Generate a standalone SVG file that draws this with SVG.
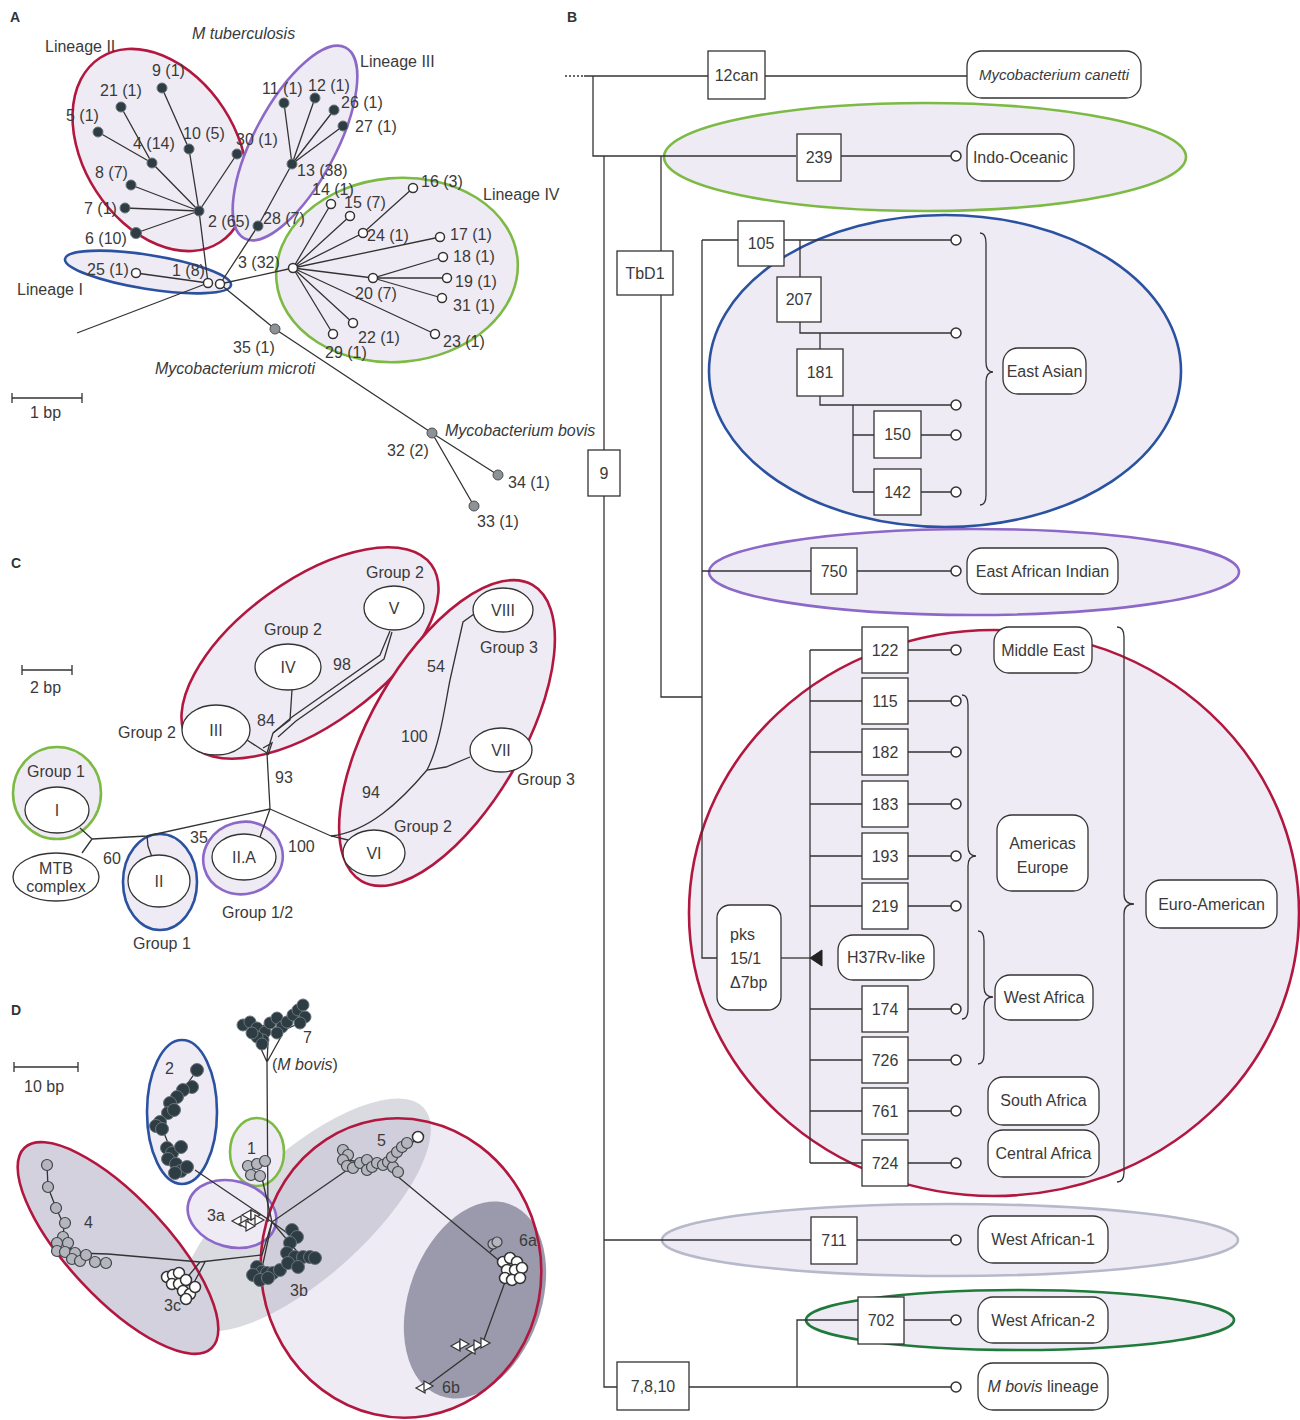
<svg xmlns="http://www.w3.org/2000/svg" width="1300" height="1420" viewBox="0 0 1300 1420">
<defs>
<style>
.t{font-family:"Liberation Sans",Arial,sans-serif;font-size:16px;fill:#3a3a3a}
.it{font-style:italic}
.c{text-anchor:middle}
.pl{font-family:"Liberation Sans",Arial,sans-serif;font-size:14px;font-weight:bold;fill:#333}
.ln{fill:none;stroke:#333;stroke-width:1.3}
.box{fill:#fff;stroke:#333;stroke-width:1.3}
.lav{fill:#efebf4}
.wh{fill:#fff;stroke:#333;stroke-width:1.3}
.red{stroke:#b2183f;stroke-width:2.6}
.pur{stroke:#8c68c8;stroke-width:2.6}
.grn{stroke:#7cba44;stroke-width:2.6}
.blu{stroke:#2a52a0;stroke-width:2.6}
.dg{stroke:#1f7a3c;stroke-width:2.6}
.gy{stroke:#b6b9ca;stroke-width:2.6}
.dk{fill:#2e3c44;stroke:#6b767c;stroke-width:1}
.op{fill:#fff;stroke:#333;stroke-width:1.5}
.gr{fill:#8d9297;stroke:#4a4f54;stroke-width:1}
.gc{fill:#b4b5bd;stroke:#3e4448;stroke-width:1.2}
.tip{fill:#fff;stroke:#333;stroke-width:1.5}
.tri{fill:#fff;stroke:#333;stroke-width:1.2}
</style>
<path id="triL" d="M-5,0 L4,-5 L4,5 Z"/>
<path id="triR" d="M5,0 L-4,-5 L-4,5 Z"/>
</defs>
<rect width="1300" height="1420" fill="#fff"/>

<!-- ================= PANEL A ================= -->
<g id="panelA">
<text class="pl" x="10" y="22">A</text>
<g id="A-groups">
<ellipse id="lineageII" class="lav red" cx="160" cy="150" rx="110" ry="76" transform="rotate(57 160 150)"/>
<ellipse id="lineageIII" class="lav pur" cx="295" cy="143" rx="108" ry="41" transform="rotate(-62 295 143)"/>
<ellipse id="lineageIV" class="lav grn" cx="397" cy="270" rx="121" ry="92" transform="rotate(-5 397 270)"/>
<ellipse id="lineageI" class="lav blu" cx="148" cy="272" rx="84" ry="17" transform="rotate(9 148 272)"/>
</g>
<g id="connectors-A" class="ln">
<path d="M77,333 L208,283"/>
<path d="M199,211 L208,283 M136,273 L208,283"/>
<path d="M199,211 L152,163 L121,107 M152,163 L98,132"/>
<path d="M199,211 L189,149 L162,88"/>
<path d="M199,211 L237,154 M199,211 L131,185 M199,211 L125,208 M199,211 L136,233"/>
<path d="M220,284 L258,226 L292,164 M292,164 L284,103 M292,164 L315,98 M292,164 L334,110 M292,164 L343,126"/>
<path d="M220,284 L293,268"/>
<path d="M293,268 L331,204 M293,268 L350,216 M293,268 L363,233 L413,188 M293,268 L440,237 M293,268 L373,278 L443,257 M373,278 L447,278 M373,278 L442,298 M293,268 L435,334 M293,268 L353,323 M293,268 L333,334"/>
<path d="M220,284 L275,329 L432,433 L498,475 M432,433 L474,506"/>
<path d="M12,398 H82 M12,393 V403 M82,393 V403"/>
</g>
<g id="A-nodes">
<circle id="a9" class="dk" cx="162" cy="88" r="5"/>
<circle id="a21" class="dk" cx="121" cy="107" r="5"/>
<circle id="a5" class="dk" cx="98" cy="132" r="5"/>
<circle id="a4" class="dk" cx="152" cy="163" r="5"/>
<circle id="a10" class="dk" cx="189" cy="149" r="5"/>
<circle id="a30" class="dk" cx="237" cy="154" r="5"/>
<circle id="a8" class="dk" cx="131" cy="185" r="5"/>
<circle id="a7" class="dk" cx="125" cy="208" r="5"/>
<circle id="a6" class="dk" cx="136" cy="233" r="5.5"/>
<circle id="a2" class="dk" cx="199" cy="211" r="5"/>
<circle id="a28" class="dk" cx="258" cy="226" r="5"/>
<circle id="a13" class="dk" cx="292" cy="164" r="5"/>
<circle id="a11" class="dk" cx="284" cy="103" r="5"/>
<circle id="a12" class="dk" cx="315" cy="98" r="5"/>
<circle id="a26" class="dk" cx="334" cy="110" r="5"/>
<circle id="a27" class="dk" cx="343" cy="126" r="5"/>
<circle id="a25" class="op" cx="136" cy="273" r="4.5"/>
<circle id="a1a" class="op" cx="208" cy="283" r="4.5"/>
<circle id="a1b" class="op" cx="220" cy="284" r="4.5"/>
<circle id="a3" class="op" cx="293" cy="268" r="4.5"/>
<circle id="a14" class="op" cx="331" cy="204" r="4.5"/>
<circle id="a15" class="op" cx="350" cy="216" r="4.5"/>
<circle id="a16" class="op" cx="413" cy="188" r="4.5"/>
<circle id="a24" class="op" cx="363" cy="233" r="4.5"/>
<circle id="a17" class="op" cx="440" cy="237" r="4.5"/>
<circle id="a18" class="op" cx="443" cy="257" r="4.5"/>
<circle id="a20" class="op" cx="373" cy="278" r="4.5"/>
<circle id="a19" class="op" cx="447" cy="278" r="4.5"/>
<circle id="a31" class="op" cx="442" cy="298" r="4.5"/>
<circle id="a22" class="op" cx="353" cy="323" r="4.5"/>
<circle id="a29" class="op" cx="333" cy="334" r="4.5"/>
<circle id="a23" class="op" cx="435" cy="334" r="4.5"/>
<circle id="a35" class="gr" cx="275" cy="329" r="5"/>
<circle id="a32" class="gr" cx="432" cy="433" r="5"/>
<circle id="a34" class="gr" cx="498" cy="475" r="5"/>
<circle id="a33" class="gr" cx="474" cy="506" r="5"/>
</g>
<g id="A-labels" class="t">
<text x="152" y="76">9 (1)</text>
<text x="100" y="96">21 (1)</text>
<text x="66" y="121">5 (1)</text>
<text x="133" y="149">4 (14)</text>
<text x="183" y="139">10 (5)</text>
<text x="236" y="145">30 (1)</text>
<text x="95" y="178">8 (7)</text>
<text x="84" y="214">7 (1)</text>
<text x="85" y="244">6 (10)</text>
<text x="208" y="227">2 (65)</text>
<text x="263" y="224">28 (7)</text>
<text x="262" y="94">11 (1)</text>
<text x="308" y="91">12 (1)</text>
<text x="341" y="108">26 (1)</text>
<text x="355" y="132">27 (1)</text>
<text x="297" y="176">13 (38)</text>
<text x="87" y="275">25 (1)</text>
<text x="172" y="276">1 (8)</text>
<text x="238" y="268">3 (32)</text>
<text x="312" y="195">14 (1)</text>
<text x="344" y="208">15 (7)</text>
<text x="421" y="187">16 (3)</text>
<text x="367" y="241">24 (1)</text>
<text x="450" y="240">17 (1)</text>
<text x="453" y="262">18 (1)</text>
<text x="455" y="287">19 (1)</text>
<text x="453" y="311">31 (1)</text>
<text x="355" y="299">20 (7)</text>
<text x="358" y="343">22 (1)</text>
<text x="325" y="358">29 (1)</text>
<text x="443" y="347">23 (1)</text>
<text x="233" y="353">35 (1)</text>
<text x="387" y="456">32 (2)</text>
<text x="508" y="488">34 (1)</text>
<text x="477" y="527">33 (1)</text>
<text class="it" x="155" y="374">Mycobacterium microti</text>
<text class="it" x="445" y="436">Mycobacterium bovis</text>
<text class="it" x="192" y="39">M tuberculosis</text>
<text x="45" y="52">Lineage II</text>
<text x="360" y="67">Lineage III</text>
<text x="483" y="200">Lineage IV</text>
<text x="17" y="295">Lineage I</text>
<text x="30" y="418">1 bp</text>
</g>
</g>

<!-- ================= PANEL B ================= -->
<g id="panelB">
<text class="pl" x="567" y="22">B</text>
<g id="B-groups">
<ellipse id="g-indo" class="lav grn" cx="925" cy="157" rx="261" ry="54"/>
<ellipse id="g-eastasian" class="lav blu" cx="945" cy="371" rx="236" ry="156"/>
<ellipse id="g-eai" class="lav pur" cx="974" cy="572" rx="265" ry="43"/>
<ellipse id="g-euro" class="lav red" cx="994" cy="913" rx="305" ry="283"/>
<ellipse id="g-wa1" class="lav gy" cx="950" cy="1240" rx="288" ry="36"/>
<ellipse id="g-wa2" class="lav dg" cx="1020" cy="1320" rx="214" ry="30"/>
</g>
<g id="connectors-B" class="ln">
<path d="M565,76 H584" stroke-dasharray="2,2"/>
<path d="M584,76 H708 M765,76 H967"/>
<path d="M593,76 V156 H796 M841,156 H951"/>
<path d="M604,156 V1387 H617"/>
<path d="M661,156 V697 H702"/>
<path d="M702,240 H738 M784,240 H951 M702,240 V958 H717"/>
<path d="M800,240 V277 M800,322 V333 H951 M820,333 V349 M820,396 V405 H951 M853,405 V492 M853,435 H874 M921,435 H951 M853,492 H874 M921,492 H951"/>
<path d="M702,571 H811 M857,571 H951"/>
<path d="M810,650 V1163"/>
<path d="M810,650 H862 M908,650 H951 M810,701 H862 M908,701 H951 M810,752 H862 M908,752 H951 M810,804 H862 M908,804 H951 M810,856 H862 M908,856 H951 M810,906 H862 M908,906 H951 M810,1009 H862 M908,1009 H951 M810,1060 H862 M908,1060 H951 M810,1111 H862 M908,1111 H951 M810,1163 H862 M908,1163 H951"/>
<path d="M781,958 H810"/>
<path d="M604,1240 H811 M857,1240 H951"/>
<path d="M689,1387 H951 M797,1387 V1320 H858 M904,1320 H951"/>
<path d="M980,233 Q986,233 986,243 L986,362 Q986,372 993,372 Q986,372 986,382 L986,495 Q986,505 980,505"/>
<path d="M962,695 Q968,695 968,705 L968,846 Q968,856 976,856 Q968,856 968,866 L968,1009 Q968,1019 962,1019"/>
<path d="M978,931 Q984,931 984,941 L984,987 Q984,997 993,997 Q984,997 984,1007 L984,1054 Q984,1064 978,1064"/>
<path d="M1117,627 Q1124,627 1124,637 L1124,894 Q1124,904 1134,904 Q1124,904 1124,914 L1124,1172 Q1124,1182 1117,1182"/>
<polygon points="810,958 822,950 822,966" fill="#222" stroke="#222" stroke-width="1"/>
</g>
<g id="B-tips">
<circle class="tip" cx="956" cy="156" r="5"/>
<circle class="tip" cx="956" cy="240" r="5"/>
<circle class="tip" cx="956" cy="333" r="5"/>
<circle class="tip" cx="956" cy="405" r="5"/>
<circle class="tip" cx="956" cy="435" r="5"/>
<circle class="tip" cx="956" cy="492" r="5"/>
<circle class="tip" cx="956" cy="571" r="5"/>
<circle class="tip" cx="956" cy="650" r="5"/>
<circle class="tip" cx="956" cy="701" r="5"/>
<circle class="tip" cx="956" cy="752" r="5"/>
<circle class="tip" cx="956" cy="804" r="5"/>
<circle class="tip" cx="956" cy="856" r="5"/>
<circle class="tip" cx="956" cy="906" r="5"/>
<circle class="tip" cx="956" cy="1009" r="5"/>
<circle class="tip" cx="956" cy="1060" r="5"/>
<circle class="tip" cx="956" cy="1111" r="5"/>
<circle class="tip" cx="956" cy="1163" r="5"/>
<circle class="tip" cx="956" cy="1240" r="5"/>
<circle class="tip" cx="956" cy="1320" r="5"/>
<circle class="tip" cx="956" cy="1387" r="5"/>
</g>
<g id="B-nodes" class="t">
<g id="b-12can"><rect class="box" x="708" y="51" width="57" height="48"/><text class="c" x="736.5" y="81">12can</text></g>
<g id="b-canetti"><rect class="box" x="967" y="51" width="174" height="47" rx="15"/><text class="c it" x="1054" y="80" style="font-size:15px">Mycobacterium canetti</text></g>
<g id="b-239"><rect class="box" x="797" y="134" width="44" height="47"/><text class="c" x="819" y="163">239</text></g>
<g id="b-indo"><rect class="box" x="967" y="134" width="107" height="47" rx="15"/><text class="c" x="1020.5" y="163">Indo-Oceanic</text></g>
<g id="b-tbd1"><rect class="box" x="617" y="251" width="56" height="44"/><text class="c" x="645" y="279">TbD1</text></g>
<g id="b-9"><rect class="box" x="588" y="450" width="32" height="46"/><text class="c" x="604" y="479">9</text></g>
<g id="b-105"><rect class="box" x="738" y="221" width="46" height="45"/><text class="c" x="761" y="249">105</text></g>
<g id="b-207"><rect class="box" x="777" y="277" width="44" height="45"/><text class="c" x="799" y="305">207</text></g>
<g id="b-181"><rect class="box" x="797" y="349" width="46" height="47"/><text class="c" x="820" y="378">181</text></g>
<g id="b-150"><rect class="box" x="874" y="411" width="47" height="47"/><text class="c" x="897.5" y="440">150</text></g>
<g id="b-142"><rect class="box" x="874" y="469" width="47" height="46"/><text class="c" x="897.5" y="498">142</text></g>
<g id="b-eastasian"><rect class="box" x="1003" y="348" width="83" height="46" rx="15"/><text class="c" x="1044.5" y="377">East Asian</text></g>
<g id="b-750"><rect class="box" x="811" y="548" width="46" height="46"/><text class="c" x="834" y="577">750</text></g>
<g id="b-eai"><rect class="box" x="967" y="548" width="151" height="46" rx="15"/><text class="c" x="1042.5" y="577">East African Indian</text></g>
<g id="b-122"><rect class="box" x="862" y="627" width="46" height="46"/><text class="c" x="885" y="656">122</text></g>
<g id="b-115"><rect class="box" x="862" y="678" width="46" height="46"/><text class="c" x="885" y="707">115</text></g>
<g id="b-182"><rect class="box" x="862" y="729" width="46" height="46"/><text class="c" x="885" y="758">182</text></g>
<g id="b-183"><rect class="box" x="862" y="781" width="46" height="46"/><text class="c" x="885" y="810">183</text></g>
<g id="b-193"><rect class="box" x="862" y="833" width="46" height="46"/><text class="c" x="885" y="862">193</text></g>
<g id="b-219"><rect class="box" x="862" y="883" width="46" height="46"/><text class="c" x="885" y="912">219</text></g>
<g id="b-174"><rect class="box" x="862" y="986" width="46" height="46"/><text class="c" x="885" y="1015">174</text></g>
<g id="b-726"><rect class="box" x="862" y="1037" width="46" height="46"/><text class="c" x="885" y="1066">726</text></g>
<g id="b-761"><rect class="box" x="862" y="1088" width="46" height="46"/><text class="c" x="885" y="1117">761</text></g>
<g id="b-724"><rect class="box" x="862" y="1140" width="46" height="46"/><text class="c" x="885" y="1169">724</text></g>
<g id="b-pks"><rect class="box" x="717" y="905" width="64" height="105" rx="13"/><text x="730" y="940">pks</text><text x="730" y="964">15/1</text><text x="730" y="988">Δ7bp</text></g>
<g id="b-h37"><rect class="box" x="838" y="935" width="96" height="45" rx="15"/><text class="c" x="886" y="963">H37Rv-like</text></g>
<g id="b-mideast"><rect class="box" x="994" y="627" width="98" height="46" rx="15"/><text class="c" x="1043" y="656">Middle East</text></g>
<g id="b-ameu"><rect class="box" x="997" y="815" width="91" height="76" rx="15"/><text class="c" x="1042.5" y="849">Americas</text><text class="c" x="1042.5" y="873">Europe</text></g>
<g id="b-euroam"><rect class="box" x="1146" y="880" width="131" height="48" rx="15"/><text class="c" x="1211.5" y="910">Euro-American</text></g>
<g id="b-westafrica"><rect class="box" x="995" y="975" width="98" height="45" rx="15"/><text class="c" x="1044" y="1003">West Africa</text></g>
<g id="b-southafrica"><rect class="box" x="988" y="1077" width="111" height="48" rx="15"/><text class="c" x="1043.5" y="1106">South Africa</text></g>
<g id="b-centralafrica"><rect class="box" x="988" y="1130" width="111" height="47" rx="15"/><text class="c" x="1043.5" y="1159">Central Africa</text></g>
<g id="b-711"><rect class="box" x="811" y="1217" width="46" height="47"/><text class="c" x="834" y="1246">711</text></g>
<g id="b-wa1"><rect class="box" x="978" y="1216" width="130" height="47" rx="15"/><text class="c" x="1043" y="1245">West African-1</text></g>
<g id="b-702"><rect class="box" x="858" y="1297" width="46" height="47"/><text class="c" x="881" y="1326">702</text></g>
<g id="b-wa2"><rect class="box" x="978" y="1297" width="130" height="46" rx="15"/><text class="c" x="1043" y="1326">West African-2</text></g>
<g id="b-7810"><rect class="box" x="617" y="1362" width="72" height="48"/><text class="c" x="653" y="1392">7,8,10</text></g>
<g id="b-mbovis"><rect class="box" x="978" y="1363" width="130" height="47" rx="15"/><text class="c" x="1043" y="1392"><tspan class="it">M bovis</tspan> lineage</text></g>
</g>
</g>

<!-- ================= PANEL C ================= -->
<g id="panelC">
<text class="pl" x="11" y="568">C</text>
<g id="C-groups">
<ellipse class="lav red" cx="310" cy="653" rx="150" ry="72" transform="rotate(-36 310 653)"/>
<ellipse class="lav red" cx="447" cy="733" rx="171" ry="76" transform="rotate(-60 447 733)"/>
<ellipse class="lav grn" cx="57" cy="793" rx="44" ry="46"/>
<ellipse class="lav blu" cx="160" cy="882" rx="37" ry="48"/>
<ellipse class="lav pur" cx="243" cy="858" rx="40" ry="36" transform="rotate(-15 243 858)"/>
</g>
<g id="connectors-C" class="ln">
<path d="M80,828 L92,839 M82,853 L92,839"/>
<path d="M92,839 L147,836 L270,809"/>
<path d="M147,836 L148,846 L152,857"/>
<path d="M270,809 L260,837"/>
<path d="M270,809 L267,753 L247,740"/>
<path d="M267,753 L273,733 M263,748 L272,743 L268,755"/>
<path d="M273,733 L290,720 L292,690"/>
<path d="M273,733 L292,717 L380,655 L390,631 M278,737 L296,721 L384,659 L392,632"/>
<path d="M270,809 L331,836 L348,840"/>
<path d="M331,836 C368,832 400,802 427,770 L446,767 L470,757"/>
<path d="M427,770 C440,745 445,705 450,680 L463,622 L474,614"/>
<path d="M22,670 H72 M22,665 V675 M72,665 V675"/>
</g>
<g id="C-nodes" class="t">
<g id="c-I"><ellipse class="wh" cx="57" cy="810" rx="32" ry="23"/><text class="c" x="57" y="816">I</text></g>
<g id="c-MTB"><ellipse class="wh" cx="56" cy="877" rx="43" ry="24"/><text class="c" x="56" y="874">MTB</text><text class="c" x="56" y="892">complex</text></g>
<g id="c-II"><ellipse class="wh" cx="159" cy="881" rx="31" ry="26"/><text class="c" x="159" y="887">II</text></g>
<g id="c-IIA"><ellipse class="wh" cx="244" cy="857" rx="32" ry="23"/><text class="c" x="244" y="863">II.A</text></g>
<g id="c-III"><ellipse class="wh" cx="216" cy="730" rx="34" ry="25"/><text class="c" x="216" y="736">III</text></g>
<g id="c-IV"><ellipse class="wh" cx="288" cy="667" rx="33" ry="23"/><text class="c" x="288" y="673">IV</text></g>
<g id="c-V"><ellipse class="wh" cx="394" cy="608" rx="30" ry="22"/><text class="c" x="394" y="614">V</text></g>
<g id="c-VI"><ellipse class="wh" cx="374" cy="853" rx="31" ry="23"/><text class="c" x="374" y="859">VI</text></g>
<g id="c-VII"><ellipse class="wh" cx="501" cy="750" rx="31" ry="22"/><text class="c" x="501" y="756">VII</text></g>
<g id="c-VIII"><ellipse class="wh" cx="503" cy="610" rx="30" ry="22"/><text class="c" x="503" y="616">VIII</text></g>
</g>
<g id="C-labels" class="t">
<text x="366" y="578">Group 2</text>
<text x="264" y="635">Group 2</text>
<text x="333" y="670">98</text>
<text x="118" y="738">Group 2</text>
<text x="257" y="726">84</text>
<text x="275" y="783">93</text>
<text x="427" y="672">54</text>
<text x="480" y="653">Group 3</text>
<text x="401" y="742">100</text>
<text x="517" y="785">Group 3</text>
<text x="362" y="798">94</text>
<text x="394" y="832">Group 2</text>
<text x="27" y="777">Group 1</text>
<text x="103" y="864">60</text>
<text x="190" y="843">35</text>
<text x="288" y="852">100</text>
<text x="222" y="918">Group 1/2</text>
<text x="133" y="949">Group 1</text>
<text x="30" y="693">2 bp</text>
</g>
</g>

<!-- ================= PANEL D ================= -->
<g id="panelD">
<text class="pl" x="11" y="1015">D</text>
<g id="D-groups">
<ellipse id="d-right" class="lav" cx="401" cy="1268" rx="140" ry="150" transform="rotate(-10 401 1268)"/>
<ellipse id="d-shade" cx="305" cy="1215" rx="160" ry="62" transform="rotate(-42 305 1215)" fill="#a3a3b4" fill-opacity="0.4"/>
<ellipse id="d-left" cx="118" cy="1248" rx="137" ry="50" transform="rotate(47 118 1248)" fill="#d3d1de"/>
<ellipse id="d-six" cx="475" cy="1300" rx="66" ry="102" transform="rotate(20 475 1300)" fill="#9a9aac"/>
<ellipse id="d-2" class="lav blu" cx="182" cy="1112" rx="35" ry="72"/>
<ellipse id="d-1" class="lav grn" cx="257" cy="1152" rx="27" ry="34"/>
<ellipse id="d-3a" class="lav pur" cx="232" cy="1214" rx="45" ry="33" transform="rotate(15 232 1214)"/>
<ellipse cx="118" cy="1248" rx="137" ry="50" transform="rotate(47 118 1248)" fill="none" class="red"/>
<ellipse cx="401" cy="1268" rx="140" ry="150" transform="rotate(-10 401 1268)" fill="none" class="red"/>
</g>
<g id="connectors-D" class="ln" stroke-width="1.1">
<path d="M268,1222 L267,1062 M267,1062 L257,1040 M267,1062 L282,1035 M267,1062 L268,1043"/>
<path d="M243,1025 L257,1028 L270,1023 L287,1022 L303,1007 M265,1032 L277,1033 L300,1023"/>
<path d="M272,1222 L195,1170 M181,1170 L172,1153 L162,1128 L170,1103 L183,1090 L197,1070"/>
<path d="M272,1222 L262,1178"/>
<path d="M272,1222 L353,1166 M345,1160 L390,1165 L418,1137"/>
<path d="M385,1166 L508,1268 M490,1252 L497,1245"/>
<path d="M505,1282 L482,1345 L424,1388"/>
<path d="M272,1222 L262,1268 M272,1222 L300,1255 L315,1258 M272,1222 L290,1235"/>
<path d="M272,1222 L262,1255 L200,1262 L108,1254 M200,1262 L185,1280 M205,1262 L190,1290"/>
<path d="M47,1165 L48,1187 L56,1208 L64,1225 L63,1240 L75,1253 L108,1254"/>
<path d="M14,1067 H78 M14,1062 V1072 M78,1062 V1072"/>
</g>
<g id="D-nodes">
<g id="d-cluster7">
<circle class="dk" cx="243" cy="1025" r="6"/><circle class="dk" cx="250" cy="1022" r="6"/><circle class="dk" cx="257" cy="1028" r="6"/><circle class="dk" cx="265" cy="1032" r="6"/><circle class="dk" cx="263" cy="1040" r="6"/><circle class="dk" cx="257" cy="1037" r="6"/><circle class="dk" cx="270" cy="1023" r="6"/><circle class="dk" cx="277" cy="1018" r="6"/><circle class="dk" cx="282" cy="1027" r="6"/><circle class="dk" cx="287" cy="1022" r="6"/><circle class="dk" cx="293" cy="1015" r="6"/><circle class="dk" cx="298" cy="1010" r="6"/><circle class="dk" cx="303" cy="1005" r="6"/><circle class="dk" cx="305" cy="1017" r="6"/><circle class="dk" cx="300" cy="1023" r="6"/><circle class="dk" cx="252" cy="1033" r="6"/><circle class="dk" cx="262" cy="1044" r="6"/><circle class="dk" cx="277" cy="1033" r="6"/>
</g>
<g id="d-cluster2">
<circle class="dk" cx="197" cy="1070" r="6.5"/><circle class="dk" cx="192" cy="1087" r="6.5"/><circle class="dk" cx="183" cy="1090" r="6.5"/><circle class="dk" cx="177" cy="1097" r="6.5"/><circle class="dk" cx="170" cy="1103" r="6.5"/><circle class="dk" cx="168" cy="1113" r="6.5"/><circle class="dk" cx="174" cy="1110" r="6.5"/><circle class="dk" cx="160" cy="1122" r="6.5"/><circle class="dk" cx="156" cy="1126" r="6.5"/><circle class="dk" cx="162" cy="1129" r="6.5"/><circle class="dk" cx="167" cy="1148" r="6.5"/><circle class="dk" cx="172" cy="1153" r="6.5"/><circle class="dk" cx="168" cy="1159" r="6.5"/><circle class="dk" cx="176" cy="1164" r="6.5"/><circle class="dk" cx="181" cy="1171" r="6.5"/><circle class="dk" cx="175" cy="1173" r="6.5"/><circle class="dk" cx="187" cy="1167" r="6.5"/><circle class="dk" cx="181" cy="1147" r="6.5"/>
</g>
<g id="d-cluster1">
<circle class="gc" cx="248" cy="1166" r="5.5"/><circle class="gc" cx="257" cy="1164" r="5.5"/><circle class="gc" cx="265" cy="1161" r="5.5"/><circle class="gc" cx="251" cy="1175" r="5.5"/><circle class="gc" cx="260" cy="1176" r="5.5"/>
</g>
<g id="d-cluster3a">
<use href="#triL" class="tri" x="237" y="1221"/><use href="#triL" class="tri" x="244" y="1224"/><use href="#triR" class="tri" x="250" y="1226"/><use href="#triL" class="tri" x="247" y="1215"/><use href="#triR" class="tri" x="255" y="1215"/><use href="#triR" class="tri" x="259" y="1220"/>
</g>
<g id="d-cluster3b">
<circle class="dk" cx="292" cy="1230" r="6.5"/><circle class="dk" cx="297" cy="1237" r="6.5"/><circle class="dk" cx="290" cy="1243" r="6.5"/><circle class="dk" cx="287" cy="1253" r="6.5"/><circle class="dk" cx="295" cy="1257" r="6.5"/><circle class="dk" cx="303" cy="1257" r="6.5"/><circle class="dk" cx="310" cy="1257" r="6.5"/><circle class="dk" cx="315" cy="1258" r="6.5"/><circle class="dk" cx="257" cy="1267" r="6.5"/><circle class="dk" cx="262" cy="1272" r="6.5"/><circle class="dk" cx="267" cy="1273" r="6.5"/><circle class="dk" cx="273" cy="1273" r="6.5"/><circle class="dk" cx="280" cy="1270" r="6.5"/><circle class="dk" cx="253" cy="1275" r="6.5"/><circle class="dk" cx="260" cy="1280" r="6.5"/><circle class="dk" cx="268" cy="1278" r="6.5"/><circle class="dk" cx="288" cy="1263" r="6.5"/><circle class="dk" cx="298" cy="1267" r="6.5"/>
</g>
<g id="d-cluster3c">
<circle class="op" cx="167" cy="1277" r="5.5"/><circle class="op" cx="173" cy="1275" r="5.5"/><circle class="op" cx="179" cy="1273" r="5.5"/><circle class="op" cx="172" cy="1284" r="5.5"/><circle class="op" cx="179" cy="1284" r="5.5"/><circle class="op" cx="186" cy="1280" r="5.5"/><circle class="op" cx="183" cy="1291" r="5.5"/><circle class="op" cx="190" cy="1294" r="5.5"/><circle class="op" cx="195" cy="1287" r="5.5"/><circle class="op" cx="186" cy="1299" r="5.5"/>
</g>
<g id="d-cluster4">
<circle class="gc" cx="47" cy="1165" r="5.5"/><circle class="gc" cx="48" cy="1187" r="5.5"/><circle class="gc" cx="56" cy="1208" r="5.5"/><circle class="gc" cx="65" cy="1223" r="5.5"/><circle class="gc" cx="63" cy="1237" r="5.5"/><circle class="gc" cx="57" cy="1243" r="5.5"/><circle class="gc" cx="68" cy="1243" r="5.5"/><circle class="gc" cx="57" cy="1251" r="5.5"/><circle class="gc" cx="65" cy="1252" r="5.5"/><circle class="gc" cx="75" cy="1253" r="5.5"/><circle class="gc" cx="72" cy="1259" r="5.5"/><circle class="gc" cx="80" cy="1261" r="5.5"/><circle class="gc" cx="86" cy="1255" r="5.5"/><circle class="gc" cx="95" cy="1262" r="5.5"/><circle class="gc" cx="106" cy="1263" r="5.5"/>
</g>
<g id="d-cluster5">
<circle class="gc" cx="343" cy="1150" r="5.5"/><circle class="gc" cx="348" cy="1155" r="5.5"/><circle class="gc" cx="343" cy="1160" r="5.5"/><circle class="gc" cx="347" cy="1166" r="5.5"/><circle class="gc" cx="353" cy="1168" r="5.5"/><circle class="gc" cx="360" cy="1163" r="5.5"/><circle class="gc" cx="367" cy="1160" r="5.5"/><circle class="gc" cx="367" cy="1170" r="5.5"/><circle class="gc" cx="372" cy="1167" r="5.5"/><circle class="gc" cx="377" cy="1163" r="5.5"/><circle class="gc" cx="383" cy="1165" r="5.5"/><circle class="gc" cx="388" cy="1162" r="5.5"/><circle class="gc" cx="393" cy="1167" r="5.5"/><circle class="gc" cx="398" cy="1172" r="5.5"/><circle class="gc" cx="392" cy="1157" r="5.5"/><circle class="gc" cx="397" cy="1152" r="5.5"/><circle class="gc" cx="402" cy="1147" r="5.5"/><circle class="gc" cx="407" cy="1143" r="5.5"/><circle class="op" cx="418" cy="1137" r="5.5"/>
</g>
<g id="d-cluster6a">
<circle class="gc" cx="493" cy="1244" r="5"/><circle class="gc" cx="497" cy="1242" r="5"/>
<circle class="op" cx="503" cy="1262" r="5.5"/><circle class="op" cx="510" cy="1258" r="5.5"/><circle class="op" cx="517" cy="1262" r="5.5"/><circle class="op" cx="507" cy="1270" r="5.5"/><circle class="op" cx="515" cy="1270" r="5.5"/><circle class="op" cx="522" cy="1268" r="5.5"/><circle class="op" cx="505" cy="1278" r="5.5"/><circle class="op" cx="512" cy="1280" r="5.5"/><circle class="op" cx="520" cy="1278" r="5.5"/>
</g>
<g id="d-cluster6b">
<use href="#triL" class="tri" x="456" y="1346"/><use href="#triR" class="tri" x="464" y="1344"/><use href="#triL" class="tri" x="471" y="1349"/><use href="#triR" class="tri" x="478" y="1345"/><use href="#triR" class="tri" x="485" y="1343"/><use href="#triL" class="tri" x="421" y="1388"/><use href="#triR" class="tri" x="428" y="1386"/>
</g>
</g>
<g id="D-labels" class="t">
<text x="303" y="1043">7</text>
<text x="272" y="1070">(<tspan class="it">M bovis</tspan>)</text>
<text x="165" y="1074">2</text>
<text x="247" y="1154">1</text>
<text x="207" y="1221">3a</text>
<text x="290" y="1296">3b</text>
<text x="164" y="1311">3c</text>
<text x="84" y="1228">4</text>
<text x="377" y="1146">5</text>
<text x="519" y="1246">6a</text>
<text x="442" y="1393">6b</text>
<text x="24" y="1092">10 bp</text>
</g>
</g>
</svg>
